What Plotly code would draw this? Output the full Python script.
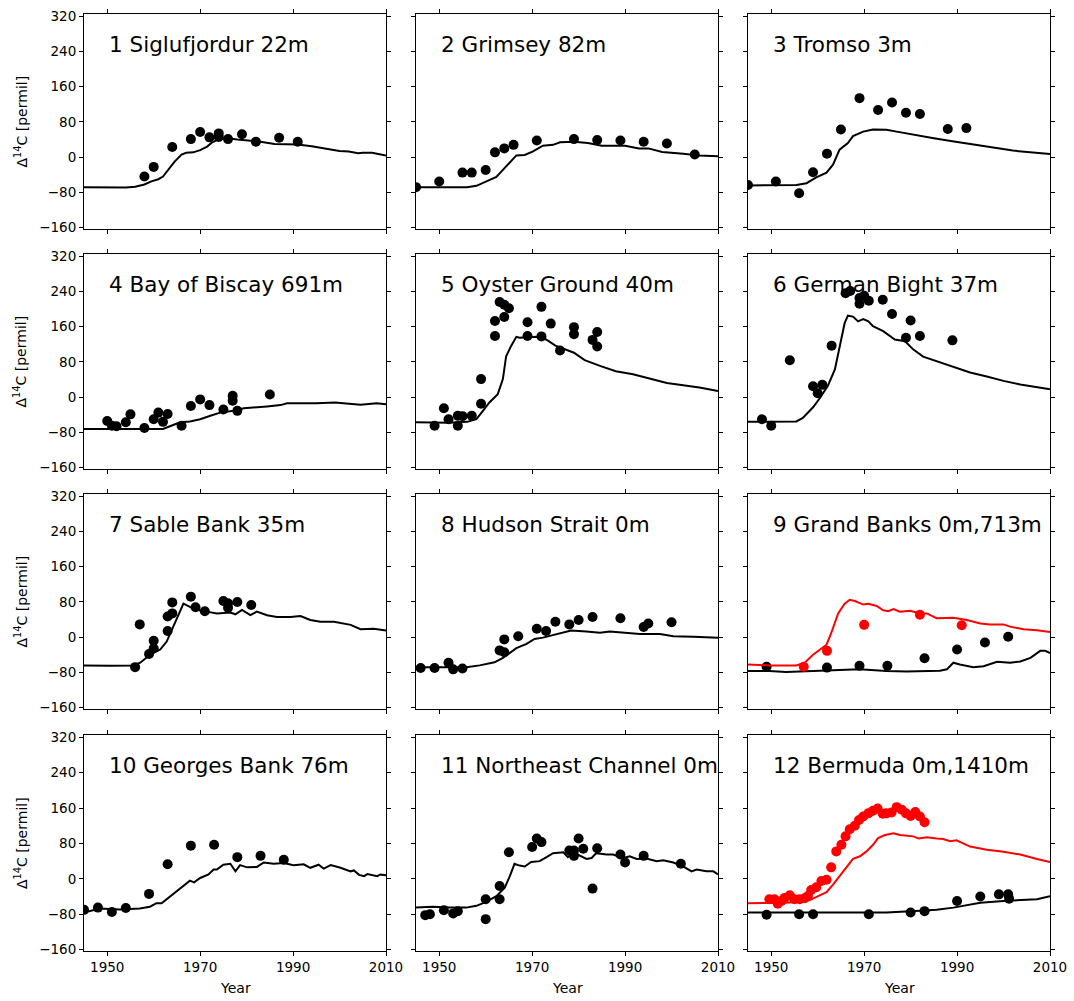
import plotly.graph_objects as go

# ---------------- data ----------------
YEAR_TICKS = [1950, 1970, 1990, 2010]
D14C_TICKS = [-160, -80, 0, 80, 160, 240, 320]
TITLES = ["1 Siglufjordur 22m", "2 Grimsey 82m", "3 Tromso 3m",
          "4 Bay of Biscay 691m", "5 Oyster Ground 40m", "6 German Bight 37m",
          "7 Sable Bank 35m", "8 Hudson Strait 0m", "9 Grand Banks 0m,713m",
          "10 Georges Bank 76m", "11 Northeast Channel 0m", "12 Bermuda 0m,1410m"]

p1_obs_year = [1958, 1960, 1964, 1968, 1970, 1972, 1974, 1974, 1976, 1979, 1982, 1987, 1991]
p1_obs_d14c = [-44, -22, 23, 41, 57, 45, 54, 46, 41, 52, 35, 44, 35]
p1_mod_year = [1945, 1950, 1954, 1956, 1958, 1959.5, 1961, 1962, 1963, 1964.5, 1966, 1967, 1968.5, 1970,
               1971.5, 1972.5, 1974, 1976, 1978, 1980, 1983, 1986, 1988, 1991, 1994, 1997, 2000, 2002,
               2004, 2005, 2007, 2010]
p1_mod_d14c = [-68, -68, -69, -67, -62, -55, -50, -44, -30, -10, 6, 10, 11, 16, 24, 33, 41, 43, 40, 38,
               35, 30, 29, 29, 25, 20, 14, 13, 9, 10, 10, 4]

p2_obs_year = [1945, 1950, 1955, 1957, 1960, 1962, 1964, 1966, 1971, 1979, 1984, 1989, 1994, 1999, 2005]
p2_obs_d14c = [-68, -55, -35, -35, -29, 11, 20, 28, 38, 41, 39, 38, 35, 31, 6]
p2_mod_year = [1945, 1952, 1956, 1958, 1960, 1962.3, 1964.4, 1966.6, 1968.4, 1970.2, 1972.3, 1974.5,
               1976, 1979, 1982, 1985, 1990, 1993, 1995, 1998, 2002.5, 2006, 2010]
p2_mod_d14c = [-68, -69, -68, -65, -55, -45, -21, 4, 5, 13, 26, 28, 34, 35, 32, 26, 26, 20, 20, 12, 8, 4, 2]

p3_obs_year = [1945, 1951, 1956, 1959, 1962, 1965, 1969, 1973, 1976, 1979, 1982, 1988, 1992]
p3_obs_d14c = [-63, -55, -82, -34, 8, 63, 134, 107, 124, 101, 98, 64, 66]
p3_mod_year = [1945, 1950, 1955.4, 1957.6, 1959.7, 1961.9, 1963.3, 1964.7, 1966.5, 1967.6, 1969.8,
               1971.9, 1973.4, 1974.8, 1977, 1980.6, 1985, 1989, 1994, 1998.6, 2002, 2010]
p3_mod_d14c = [-64, -64, -63, -59, -46, -35, -17, 17, 32, 48, 58, 63, 62, 62, 58, 52, 43, 36, 28, 20, 15, 7]

p4_obs_year = [1950, 1951, 1952, 1954, 1955, 1958, 1960, 1961, 1962, 1963, 1966, 1968, 1970, 1972,
               1975, 1977, 1977, 1978, 1985]
p4_obs_d14c = [-54, -65, -66, -57, -39, -70, -50, -35, -56, -38, -65, -20, -5, -18, -28, 3, -8, -31, 6]
p4_mod_year = [1945, 1952, 1958, 1962, 1963.5, 1965.7, 1967.8, 1970, 1972.2, 1974.3, 1977.2, 1979.4,
               1984.4, 1987.3, 1988.7, 1995, 1999, 2004.5, 2008, 2010]
p4_mod_d14c = [-72, -72, -72, -72, -66, -57, -55, -50, -42, -35, -31, -25, -21, -18, -14, -14, -12,
               -17, -14, -16]

p5_obs_year = [1949, 1951, 1952, 1954, 1954, 1955, 1957, 1959, 1959, 1962, 1962, 1963, 1964, 1965,
               1964, 1969, 1969, 1972, 1972, 1974, 1976, 1979, 1979, 1983, 1984, 1984]
p5_obs_d14c = [-65, -25, -50, -42, -65, -43, -42, 41, -15, 139, 173, 216, 210, 202, 182, 170, 139,
               205, 138, 167, 106, 159, 143, 130, 148, 115]
p5_mod_year = [1945, 1952, 1956, 1958, 1959.4, 1960.8, 1962.6, 1963.7, 1964.4, 1965.5, 1966.6, 1967.3,
               1969, 1971, 1973, 1975, 1979, 1981.3, 1984.6, 1988, 1991.7, 1995.3, 1999, 2002.5,
               2006, 2010]
p5_mod_d14c = [-57, -58, -56, -50, -31, -12, 7, 41, 93, 117, 137, 135, 136, 137, 131, 117, 101, 84,
               71, 59, 52, 42, 32, 27, 22, 14]

p6_obs_year = [1948, 1950, 1954, 1959, 1960, 1961, 1963, 1966, 1967, 1969, 1969, 1970, 1971, 1974,
               1976, 1980, 1979, 1982, 1989]
p6_obs_d14c = [-50, -65, 84, 25, 9, 28, 117, 236, 241, 225, 212, 230, 219, 221, 189, 174, 135, 139, 129]
p6_mod_year = [1945, 1950, 1955.4, 1956.8, 1959, 1960.4, 1962.2, 1963.7, 1964.7, 1965.8, 1966.5,
               1967.6, 1968.7, 1969.8, 1970.9, 1971.9, 1974.1, 1976.6, 1978.8, 1980.6, 1982.7,
               1985.6, 1989.2, 1992.8, 1996.4, 2000, 2003.6, 2010]
p6_mod_d14c = [-56, -56, -55, -47, -23, -3, 26, 63, 116, 168, 185, 183, 172, 177, 172, 161, 150, 131,
               127, 108, 92, 82, 69, 56, 47, 37, 29, 18]

p7_obs_year = [1956, 1957, 1959, 1960, 1960, 1963, 1963, 1964, 1964, 1968, 1969, 1971, 1975, 1976,
               1976, 1978, 1981]
p7_obs_d14c = [-68, 29, -38, -8, -25, 14, 47, 54, 79, 92, 68, 59, 82, 77, 67, 80, 73]
p7_mod_year = [1945, 1950.6, 1955.6, 1957.1, 1959.2, 1961.4, 1962.8, 1964.2, 1965.7, 1966.4, 1967.8,
               1969.3, 1971.4, 1973.6, 1976.5, 1977.6, 1979, 1980.8, 1982.2, 1984.4, 1986.5, 1989.4,
               1991.6, 1993.7, 1995.9, 1998.8, 2002.4, 2004.5, 2007.4, 2010]
p7_mod_d14c = [-64, -65, -64, -58, -40, -28, -10, 24, 62, 76, 69, 62, 58, 54, 56, 52, 62, 50, 58, 50,
               46, 46, 48, 39, 35, 35, 28, 18, 19, 15]

p8_obs_year = [1946, 1949, 1952, 1953, 1955, 1963, 1964, 1964, 1967, 1971, 1973, 1975, 1978, 1980,
               1983, 1989, 1994, 1995, 2000]
p8_obs_d14c = [-70, -70, -58, -73, -71, -30, -34, -5, 2, 19, 14, 35, 29, 39, 46, 43, 23, 31, 34]
p8_mod_year = [1945, 1952, 1955.8, 1958.7, 1961.9, 1963.7, 1965.2, 1966.6, 1968.8, 1970.5, 1972.3,
               1974.5, 1976.7, 1978.4, 1981.7, 1984.6, 1986.7, 1990.3, 1993.2, 1997.5, 2000.4,
               2004.7, 2010]
p8_mod_d14c = [-68, -68, -68, -64, -57, -47, -36, -25, -15, -4, -1, 5, 11, 15, 13, 10, 13, 9, 7, 7,
               2, 1, -1]

p9_obs_surf_year = [1949, 1962, 1969, 1975, 1983, 1990, 1996, 2001]
p9_obs_surf_d14c = [-67, -69, -65, -65, -48, -28, -12, 1]
p9_obs_deep_year = [1957, 1962, 1970, 1982, 1991]
p9_obs_deep_d14c = [-67, -31, 28, 51, 27]
p9_mod_red_year = [1945, 1949.6, 1955.4, 1957.2, 1959, 1960.4, 1961.9, 1962.9, 1964.4, 1965.8,
                   1966.9, 1968, 1969.8, 1970.9, 1972.7, 1974.1, 1975.2, 1976.3, 1977.7, 1979.9,
                   1982, 1983.5, 1985.6, 1989.2, 1992.1, 1995, 1997.1, 2000, 2001.4, 2004.3,
                   2007.2, 2010]
p9_mod_red_d14c = [-62, -64, -64, -58, -40, -28, -17, 9, 54, 76, 85, 82, 74, 76, 71, 61, 59, 64, 58,
                   60, 54, 54, 43, 44, 39, 31, 29, 29, 24, 18, 16, 12]
p9_mod_blk_year = [1945, 1949.6, 1953.2, 1957.6, 1964, 1969, 1974.8, 1979.1, 1986.3, 1987.8, 1989.2,
                   1990.6, 1993.5, 1995.7, 1998.6, 2001.4, 2003.6, 2005.8, 2007.9, 2009, 2010]
p9_mod_blk_d14c = [-77, -77, -79, -77, -75, -73, -77, -78, -76, -73, -58, -62, -68, -66, -56, -58,
                   -55, -47, -31, -31, -36]

p10_obs_year = [1945, 1948, 1951, 1954, 1959, 1963, 1968, 1973, 1978, 1983, 1988]
p10_obs_d14c = [-70, -65, -75, -66, -34, 33, 75, 77, 49, 52, 43]
p10_mod_year = [1945, 1948.4, 1952.7, 1957, 1959.2, 1960.6, 1961.7, 1963.5, 1965.7, 1967.8, 1968.7,
                1970, 1971.8, 1972.9, 1973.6, 1975, 1976.5, 1977.6, 1978.6, 1980.1, 1982.2, 1983.7,
                1985.8, 1988, 1990.1, 1992.3, 1993.7, 1995.5, 1996.6, 1998.1, 2000.2, 2002.4,
                2003.1, 2004.2, 2005.3, 2006, 2008.1, 2008.8, 2010]
p10_mod_d14c = [-76, -67, -69, -67, -63, -55, -55, -40, -20, -4, -8, 2, 10, 21, 21, 32, 34, 17, 31,
                26, 27, 37, 34, 36, 31, 33, 25, 32, 23, 31, 25, 17, 19, 9, 6, 11, 6, 10, 8]

p11_obs_year = [1947, 1948, 1951, 1953, 1954, 1960, 1960, 1963, 1963, 1965, 1970, 1971, 1972, 1978,
                1979, 1979, 1980, 1981, 1983, 1984, 1989, 1990, 1994, 2002]
p11_obs_d14c = [-82, -80, -71, -78, -73, -46, -91, -46, -16, 60, 72, 91, 83, 64, 64, 52, 91, 68,
                -22, 69, 55, 37, 52, 34]
p11_mod_year = [1945, 1948.6, 1952.2, 1955.8, 1958, 1960.1, 1962.3, 1964.1, 1965.2, 1966.2, 1967.3,
                1968.4, 1969.8, 1971.6, 1973.1, 1974.5, 1976.7, 1977.7, 1978.8, 1980.2, 1981.7,
                1982.8, 1983.8, 1986, 1987.4, 1989.6, 1991, 1992.5, 1994.6, 1996.8, 1998.2, 2000.4,
                2002.5, 2004.3, 2005.4, 2007.5, 2009, 2010]
p11_mod_d14c = [-65, -63, -65, -65, -61, -52, -39, -20, 6, 34, 30, 28, 38, 40, 49, 58, 60, 49, 60,
                53, 45, 47, 58, 55, 55, 47, 51, 45, 46, 40, 42, 37, 28, 17, 21, 17, 17, 10]

p12_obs_deep_year = [1949, 1956, 1959, 1971, 1980, 1983, 1990, 1995, 1999, 2001, 2001.2]
p12_obs_deep_d14c = [-81, -80, -80, -80, -76, -73, -50, -40, -35, -35, -45]
p12_obs_surf_year = [1949.6, 1950.7, 1951.4, 1952.2, 1952.9, 1954, 1955, 1956.1, 1957.2, 1957.9,
                     1958.6, 1959.7, 1960.8, 1961.9, 1962.9, 1964, 1965.1, 1966, 1966.9, 1968,
                     1968.9, 1969.8, 1970.9, 1971.9, 1972.9, 1974, 1974.8, 1975.9, 1977, 1978.1,
                     1979, 1980, 1981, 1982, 1983]
p12_obs_surf_d14c = [-46, -46, -56, -50, -43, -37, -46, -46, -44, -39, -25, -19, -5, -2, 26, 62, 77,
                     96, 112, 120, 133, 141, 148, 154, 159, 147, 148, 150, 162, 156, 148, 142, 151,
                     141, 128]
p12_mod_red_year = [1945, 1949.6, 1953.2, 1956.1, 1958.3, 1960.1, 1961.9, 1963.3, 1965.5, 1967.6,
                    1969.1, 1970.5, 1971.9, 1973, 1974.5, 1976.3, 1977.7, 1980.6, 1981.7, 1983.5,
                    1985.6, 1987, 1988.5, 1989.9, 1992.8, 1996.4, 2000, 2003.6, 2007.2, 2010]
p12_mod_red_d14c = [-55, -55, -54, -52, -48, -39, -30, -13, 17, 45, 51, 62, 77, 92, 99, 103, 99, 96,
                    91, 94, 91, 90, 85, 87, 73, 66, 61, 55, 45, 38]
p12_mod_blk_year = [1945, 1953.2, 1960.4, 1967.6, 1974.8, 1982, 1985.6, 1989.2, 1992.1, 1995, 2000,
                    2003.6, 2007.2, 2010]
p12_mod_blk_d14c = [-76, -76, -76, -76, -76, -72, -70, -65, -59, -54, -50, -48, -46, -39]

# ---------------- figure ----------------
BLACK, RED = "#000000", "#ff0000"
FONT = "DejaVu Sans"
W, H = 1074, 1001

panels = [
    [(p1_mod_year, p1_mod_d14c, "lines", BLACK), (p1_obs_year, p1_obs_d14c, "markers", BLACK)],
    [(p2_mod_year, p2_mod_d14c, "lines", BLACK), (p2_obs_year, p2_obs_d14c, "markers", BLACK)],
    [(p3_mod_year, p3_mod_d14c, "lines", BLACK), (p3_obs_year, p3_obs_d14c, "markers", BLACK)],
    [(p4_mod_year, p4_mod_d14c, "lines", BLACK), (p4_obs_year, p4_obs_d14c, "markers", BLACK)],
    [(p5_mod_year, p5_mod_d14c, "lines", BLACK), (p5_obs_year, p5_obs_d14c, "markers", BLACK)],
    [(p6_mod_year, p6_mod_d14c, "lines", BLACK), (p6_obs_year, p6_obs_d14c, "markers", BLACK)],
    [(p7_mod_year, p7_mod_d14c, "lines", BLACK), (p7_obs_year, p7_obs_d14c, "markers", BLACK)],
    [(p8_mod_year, p8_mod_d14c, "lines", BLACK), (p8_obs_year, p8_obs_d14c, "markers", BLACK)],
    [(p9_mod_blk_year, p9_mod_blk_d14c, "lines", BLACK), (p9_obs_surf_year, p9_obs_surf_d14c, "markers", BLACK),
     (p9_mod_red_year, p9_mod_red_d14c, "lines", RED), (p9_obs_deep_year, p9_obs_deep_d14c, "markers", RED)],
    [(p10_mod_year, p10_mod_d14c, "lines", BLACK), (p10_obs_year, p10_obs_d14c, "markers", BLACK)],
    [(p11_mod_year, p11_mod_d14c, "lines", BLACK), (p11_obs_year, p11_obs_d14c, "markers", BLACK)],
    [(p12_mod_blk_year, p12_mod_blk_d14c, "lines", BLACK), (p12_obs_deep_year, p12_obs_deep_d14c, "markers", BLACK),
     (p12_mod_red_year, p12_mod_red_d14c, "lines", RED), (p12_obs_surf_year, p12_obs_surf_d14c, "markers", RED)],
]

col_px = [(84, 386), (416, 718), (748, 1050)]
row_px = [(14, 229), (254, 469), (494, 709), (735, 951)]

fig = go.Figure()
layout = dict(width=W, height=H, margin=dict(l=0, r=0, t=0, b=0, pad=0), autosize=False,
              paper_bgcolor="white", plot_bgcolor="white", showlegend=False,
              font=dict(family=FONT, color="black", size=13))
annotations = []

axis_common = dict(ticks="outside", ticklen=4, tickwidth=1, tickcolor="black", showline=True,
                   linecolor="black", linewidth=1, mirror="ticks", showgrid=False, zeroline=False,
                   automargin=False, tickfont=dict(family=FONT, size=13.5, color="black"))

for i, series in enumerate(panels):
    n = i + 1
    r, c = divmod(i, 3)
    xs = "x" if n == 1 else f"x{n}"
    ys = "y" if n == 1 else f"y{n}"
    for (xv, yv, mode, color) in series:
        if mode == "lines":
            fig.add_trace(go.Scatter(x=xv, y=yv, mode="lines", line=dict(color=color, width=2),
                                     xaxis=xs, yaxis=ys, hoverinfo="skip"))
        else:
            fig.add_trace(go.Scatter(x=xv, y=yv, mode="markers",
                                     marker=dict(color=color, size=10, line=dict(width=0)),
                                     xaxis=xs, yaxis=ys, hoverinfo="skip"))
    x0, x1 = col_px[c]
    y0, y1 = row_px[r]
    layout["xaxis" + ("" if n == 1 else str(n))] = dict(
        axis_common, domain=[x0 / W, x1 / W], range=[1945, 2010], anchor=ys,
        tickvals=YEAR_TICKS, showticklabels=(r == 3))
    layout["yaxis" + ("" if n == 1 else str(n))] = dict(
        axis_common, domain=[1 - y1 / H, 1 - y0 / H], range=[-163, 325], anchor=xs,
        tickvals=D14C_TICKS, showticklabels=(c == 0))
    annotations.append(dict(x=1950, y=255, xref=xs, yref=ys, text=TITLES[i], showarrow=False,
                            xanchor="left", yanchor="middle",
                            font=dict(family=FONT, size=21.5, color="black")))
    if c == 0:
        annotations.append(dict(x=21 / W, y=1 - (y0 + y1) / 2 / H, xref="paper", yref="paper",
                                text="Δ<sup>14</sup>C [permil]", textangle=-90, showarrow=False,
                                xanchor="center", yanchor="middle",
                                font=dict(family=FONT, size=14, color="black")))
    if r == 3:
        annotations.append(dict(x=(x0 + x1) / 2 / W, y=1 - 988 / H, xref="paper", yref="paper",
                                text="Year", showarrow=False, xanchor="center", yanchor="middle",
                                font=dict(family=FONT, size=14, color="black")))

layout["annotations"] = annotations
fig.update_layout(**layout)
fig.write_html("out.html", config={"displayModeBar": False, "staticPlot": True},
               post_script="document.body.style.margin='0';document.body.style.padding='0';"
                           "document.body.style.overflow='hidden';")
